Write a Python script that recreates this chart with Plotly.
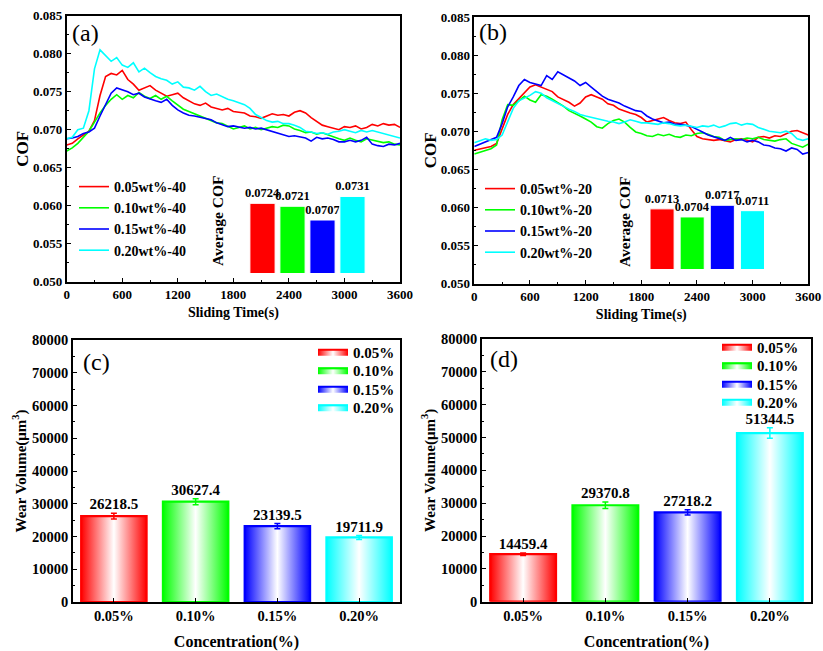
import plotly.graph_objects as go

# ---------------- DATA ----------------
time_s = list(range(0, 3601, 60))

cof_a_005 = [0.0680, 0.0682, 0.0688, 0.0693, 0.0698, 0.0712, 0.0745, 0.0770, 0.0774, 0.0772,
             0.0778, 0.0766, 0.0760, 0.0752, 0.0755, 0.0758, 0.0752, 0.0748, 0.0744, 0.0746,
             0.0748, 0.0742, 0.0738, 0.0734, 0.0732, 0.0735, 0.0730, 0.0728, 0.0726, 0.0728,
             0.0724, 0.0723, 0.0722, 0.0718, 0.0717, 0.0715, 0.0718, 0.0721, 0.0719, 0.0720,
             0.0718, 0.0723, 0.0725, 0.0722, 0.0716, 0.0711, 0.0706, 0.0704, 0.0702, 0.0700,
             0.0704, 0.0703, 0.0705, 0.0701, 0.0703, 0.0707, 0.0705, 0.0708, 0.0706, 0.0707,
             0.0703]
cof_a_010 = [0.0672, 0.0676, 0.0682, 0.0690, 0.0698, 0.0710, 0.0722, 0.0732, 0.0740, 0.0746,
             0.0740, 0.0745, 0.0742, 0.0749, 0.0744, 0.0741, 0.0745, 0.0740, 0.0744, 0.0738,
             0.0732, 0.0727, 0.0724, 0.0721, 0.0719, 0.0716, 0.0713, 0.0709, 0.0708, 0.0704,
             0.0701, 0.0703, 0.0705, 0.0701, 0.0703, 0.0700, 0.0702, 0.0704, 0.0703, 0.0706,
             0.0705, 0.0701, 0.0699, 0.0696, 0.0697, 0.0694, 0.0696, 0.0693, 0.0690, 0.0688,
             0.0686, 0.0689, 0.0686, 0.0684, 0.0688, 0.0686, 0.0685, 0.0683, 0.0684, 0.0681,
             0.0680]
cof_a_015 = [0.0688, 0.0689, 0.0691, 0.0695, 0.0697, 0.0702, 0.0718, 0.0733, 0.0748, 0.0755,
             0.0753, 0.0750, 0.0746, 0.0748, 0.0743, 0.0740, 0.0738, 0.0736, 0.0740, 0.0732,
             0.0726, 0.0722, 0.0719, 0.0718, 0.0716, 0.0715, 0.0713, 0.0709, 0.0706, 0.0704,
             0.0705, 0.0703, 0.0702, 0.0703, 0.0701, 0.0702, 0.0700, 0.0698, 0.0695, 0.0693,
             0.0691, 0.0692, 0.0690, 0.0689, 0.0685, 0.0690, 0.0688, 0.0689, 0.0687, 0.0684,
             0.0684, 0.0686, 0.0684, 0.0686, 0.0690, 0.0681, 0.0679, 0.0678, 0.0681, 0.0680,
             0.0682]
cof_a_020 = [0.0688, 0.0690, 0.0700, 0.0702, 0.0725, 0.0780, 0.0805, 0.0798, 0.0790, 0.0795,
             0.0785, 0.0782, 0.0788, 0.0776, 0.0781, 0.0775, 0.0770, 0.0767, 0.0765, 0.0760,
             0.0763, 0.0756, 0.0755, 0.0752, 0.0757, 0.0750, 0.0745, 0.0747, 0.0743, 0.0740,
             0.0738, 0.0735, 0.0733, 0.0728, 0.0720, 0.0716, 0.0712, 0.0710, 0.0711, 0.0708,
             0.0708, 0.0706, 0.0703, 0.0698, 0.0697, 0.0695, 0.0696, 0.0694, 0.0697, 0.0698,
             0.0700, 0.0698, 0.0696, 0.0699, 0.0697, 0.0699, 0.0697, 0.0695, 0.0693, 0.0690,
             0.0689]

cof_b_005 = [0.0675, 0.0677, 0.0678, 0.0680, 0.0684, 0.0702, 0.0722, 0.0735, 0.0743, 0.0750,
             0.0758, 0.0761, 0.0758, 0.0755, 0.0752, 0.0745, 0.0742, 0.0738, 0.0733, 0.0737,
             0.0745, 0.0748, 0.0745, 0.0742, 0.0736, 0.0734, 0.0729, 0.0726, 0.0724, 0.0722,
             0.0718, 0.0712, 0.0714, 0.0717, 0.0718, 0.0714, 0.0711, 0.0710, 0.0712, 0.0702,
             0.0693, 0.0690, 0.0689, 0.0688, 0.0689, 0.0687, 0.0686, 0.0689, 0.0690, 0.0688,
             0.0686, 0.0692, 0.0693, 0.0691, 0.0694, 0.0693, 0.0696, 0.0700, 0.0701, 0.0698,
             0.0695]
cof_b_010 = [0.0670, 0.0672, 0.0675, 0.0677, 0.0682, 0.0715, 0.0735, 0.0734, 0.0740, 0.0746,
             0.0741, 0.0738, 0.0748, 0.0746, 0.0742, 0.0738, 0.0733, 0.0727, 0.0724, 0.0720,
             0.0716, 0.0712, 0.0706, 0.0704, 0.0710, 0.0714, 0.0716, 0.0712, 0.0705, 0.0699,
             0.0697, 0.0694, 0.0693, 0.0696, 0.0694, 0.0696, 0.0693, 0.0692, 0.0695, 0.0694,
             0.0697, 0.0698, 0.0696, 0.0693, 0.0692, 0.0688, 0.0689, 0.0690, 0.0689, 0.0691,
             0.0690, 0.0692, 0.0689, 0.0688, 0.0687, 0.0689, 0.0690, 0.0684, 0.0681, 0.0679,
             0.0683]
cof_b_015 = [0.0680, 0.0683, 0.0686, 0.0690, 0.0692, 0.0710, 0.0732, 0.0745, 0.0760, 0.0768,
             0.0764, 0.0762, 0.0760, 0.0773, 0.0768, 0.0778, 0.0774, 0.0770, 0.0766, 0.0760,
             0.0764, 0.0758, 0.0752, 0.0746, 0.0742, 0.0740, 0.0737, 0.0733, 0.0730, 0.0727,
             0.0726, 0.0720, 0.0716, 0.0714, 0.0711, 0.0712, 0.0709, 0.0709, 0.0708, 0.0706,
             0.0703, 0.0699, 0.0695, 0.0693, 0.0690, 0.0688, 0.0692, 0.0688, 0.0689, 0.0686,
             0.0688, 0.0686, 0.0682, 0.0681, 0.0678, 0.0677, 0.0674, 0.0678, 0.0676, 0.0670,
             0.0672]
cof_b_020 = [0.0685, 0.0688, 0.0690, 0.0688, 0.0689, 0.0695, 0.0712, 0.0730, 0.0740, 0.0743,
             0.0747, 0.0752, 0.0750, 0.0744, 0.0740, 0.0737, 0.0733, 0.0729, 0.0726, 0.0722,
             0.0720, 0.0718, 0.0716, 0.0715, 0.0713, 0.0712, 0.0710, 0.0712, 0.0715, 0.0713,
             0.0711, 0.0711, 0.0710, 0.0709, 0.0711, 0.0710, 0.0708, 0.0707, 0.0708, 0.0706,
             0.0705, 0.0707, 0.0706, 0.0708, 0.0705, 0.0707, 0.0710, 0.0711, 0.0708, 0.0710,
             0.0709, 0.0705, 0.0702, 0.0700, 0.0699, 0.0698, 0.0700, 0.0697, 0.0690, 0.0688,
             0.0690]

names_a = ["0.05wt%-40", "0.10wt%-40", "0.15wt%-40", "0.20wt%-40"]
names_b = ["0.05wt%-20", "0.10wt%-20", "0.15wt%-20", "0.20wt%-20"]

avg_cof_a = [0.0724, 0.0721, 0.0707, 0.0731]
avg_cof_b = [0.0713, 0.0704, 0.0717, 0.0711]

conc_labels = ["0.05%", "0.10%", "0.15%", "0.20%"]
wear_c = [26218.5, 30627.4, 23139.5, 19711.9]
wear_c_err = [900, 900, 800, 600]
wear_d = [14459.4, 29370.8, 27218.2, 51344.5]
wear_d_err = [400, 1000, 800, 1600]

time_ticks = [0, 600, 1200, 1800, 2400, 3000, 3600]

colors = ["#FF0000", "#00FF00", "#0000FF", "#00FFFF"]

# ---------------- LAYOUT HELPERS ----------------
W, H = 823, 651
FONT = "Liberation Serif"


def px(x):
    return x / W


def py(y):
    return 1 - y / H


def bfont(size):
    return dict(family=FONT, size=size, color="black", weight="bold")


fig = go.Figure()

series_a = [cof_a_005, cof_a_010, cof_a_015, cof_a_020]
series_b = [cof_b_005, cof_b_010, cof_b_015, cof_b_020]

# panel (a) and (b) lines
for i in range(4):
    fig.add_trace(go.Scatter(x=time_s, y=series_a[i], mode="lines", name=names_a[i],
                             line=dict(color=colors[i], width=1.6),
                             xaxis="x", yaxis="y", legend="legend"))
for i in range(4):
    fig.add_trace(go.Scatter(x=time_s, y=series_b[i], mode="lines", name=names_b[i],
                             line=dict(color=colors[i], width=1.6),
                             xaxis="x2", yaxis="y2", legend="legend2"))

# inset bar charts
fig.add_trace(go.Bar(x=[0, 1, 2, 3], y=avg_cof_a, width=0.84,
                     marker=dict(color=colors, line=dict(color="white", width=1)),
                     text=["%.4f" % v for v in avg_cof_a], textposition="outside",
                     textfont=bfont(12.5), constraintext="none", cliponaxis=False,
                     showlegend=False, xaxis="x5", yaxis="y5"))
fig.add_trace(go.Bar(x=[0, 1, 2, 3], y=avg_cof_b, width=0.8,
                     marker=dict(color=colors, line=dict(color="white", width=1)),
                     text=["%.4f" % v for v in avg_cof_b], textposition="outside",
                     textfont=bfont(12.5), constraintext="none", cliponaxis=False,
                     showlegend=False, xaxis="x6", yaxis="y6"))


def add_wear_bars(values, errs, xa, ya, legends):
    half = 0.4
    for i, v in enumerate(values):
        fig.add_trace(go.Scatter(
            x=[i - half, i + half, i + half, i - half, i - half],
            y=[0, 0, v, v, 0], mode="lines", fill="toself",
            fillgradient=dict(type="horizontal",
                              colorscale=[[0, colors[i]], [0.5, "white"], [1, colors[i]]]),
            line=dict(color=colors[i], width=2.2), name=conc_labels[i],
            xaxis=xa, yaxis=ya, legend=legends[i], hoverinfo="skip"))
    for i, v in enumerate(values):
        fig.add_trace(go.Scatter(
            x=[i], y=[v], mode="markers", marker=dict(size=1, color=colors[i]),
            error_y=dict(type="data", array=[errs[i]], color=colors[i], thickness=1.5, width=3),
            showlegend=False, xaxis=xa, yaxis=ya))
    fig.add_trace(go.Scatter(
        x=list(range(len(values))), y=[v + e for v, e in zip(values, errs)], mode="text",
        text=["%.1f" % v for v in values], textposition="top center", textfont=bfont(15),
        showlegend=False, xaxis=xa, yaxis=ya, cliponaxis=False))


legends_c = ["legend3", "legend4", "legend5", "legend6"]
legends_d = ["legend7", "legend8", "legend9", "legend10"]
add_wear_bars(wear_c, wear_c_err, "x3", "y3", legends_c)
add_wear_bars(wear_d, wear_d_err, "x4", "y4", legends_d)

# ---------------- AXES ----------------
base_axis = dict(showline=True, linecolor="black", linewidth=1.6, mirror=True,
                 ticks="inside", ticklen=4, tickwidth=1.3, tickcolor="black",
                 showgrid=False, zeroline=False, fixedrange=True)


def time_axis(domain, anchor):
    return dict(base_axis, domain=domain, anchor=anchor, range=[0, 3600],
                tickvals=time_ticks, tickfont=bfont(13),
                minor=dict(ticks="inside", ticklen=2, tickcolor="black", dtick=300, tick0=0),
                title=dict(text="Sliding Time(s)", font=bfont(14), standoff=6))


def cof_axis(domain, anchor):
    return dict(base_axis, domain=domain, anchor=anchor, range=[0.050, 0.085],
                tick0=0.050, dtick=0.005, tickformat=".3f", tickfont=bfont(13),
                minor=dict(ticks="inside", ticklen=2, tickcolor="black", dtick=0.0025),
                title=dict(text="COF", font=bfont(17), standoff=0))


def conc_axis(domain, anchor):
    return dict(base_axis, domain=domain, anchor=anchor, range=[-0.5, 3.5],
                tickvals=[0, 1, 2, 3], ticktext=conc_labels, tickfont=bfont(14.5),
                title=dict(text="Concentration(%)", font=bfont(16), standoff=14))


def wear_axis(domain, anchor):
    return dict(base_axis, domain=domain, anchor=anchor, range=[0, 80000],
                dtick=10000, tickformat="d", tickfont=bfont(14.5),
                minor=dict(ticks="inside", ticklen=2, tickcolor="black", dtick=5000),
                title=dict(text="Wear Volume(μm<sup>3</sup>)", font=bfont(15), standoff=2))


hidden = dict(visible=False, showgrid=False, zeroline=False, fixedrange=True)

legend_common = dict(bgcolor="rgba(0,0,0,0)", borderwidth=0, xanchor="left", yanchor="top",
                     tracegroupgap=0, itemclick=False, itemdoubleclick=False)

legend_layout = {}
rows_c = [352, 370.5, 389, 407.5]
rows_d = [347, 365.5, 384, 402]
for k, name in enumerate(legends_c):
    legend_layout[name] = dict(legend_common, x=px(313), y=py(rows_c[k]), yanchor="middle",
                               font=bfont(15))
for k, name in enumerate(legends_d):
    legend_layout[name] = dict(legend_common, x=px(717), y=py(rows_d[k]), yanchor="middle",
                               font=bfont(15))


def label(text, x, y, size=24, bold=False, angle=0):
    f = bfont(size) if bold else dict(family=FONT, size=size, color="black")
    return dict(text=text, x=px(x), y=py(y), xref="paper", yref="paper", showarrow=False,
                xanchor="center", yanchor="middle", textangle=angle, font=f)


fig.update_layout(
    width=W, height=H, margin=dict(l=0, r=0, t=0, b=0),
    paper_bgcolor="white", plot_bgcolor="white", template="none",
    barmode="overlay", showlegend=True,
    font=dict(family=FONT, color="black"),
    xaxis=time_axis([px(66.7), px(400)], "y"),
    yaxis=cof_axis([py(281.7), py(15.7)], "x"),
    xaxis2=time_axis([px(474.3), px(808.3)], "y2"),
    yaxis2=cof_axis([py(283.5), py(17)], "x2"),
    xaxis3=conc_axis([px(73), px(400)], "y3"),
    yaxis3=wear_axis([py(602), py(340)], "x3"),
    xaxis4=conc_axis([px(482), px(811)], "y4"),
    yaxis4=wear_axis([py(601.7), py(339)], "x4"),
    xaxis5=dict(hidden, domain=[px(247.5), px(367.5)], anchor="y5", range=[-0.5, 3.5]),
    yaxis5=dict(hidden, domain=[py(273), py(168)], anchor="x5", range=[0.0653, 0.0760]),
    xaxis6=dict(hidden, domain=[px(647), px(767.5)], anchor="y6", range=[-0.5, 3.5]),
    yaxis6=dict(hidden, domain=[py(269), py(164)], anchor="x6", range=[0.0646, 0.0763]),
    legend=dict(legend_common, x=px(74), y=py(171), font=bfont(14)),
    legend2=dict(legend_common, x=px(480), y=py(173), font=bfont(14)),
    annotations=[
        label("(a)", 85, 33),
        label("(b)", 493, 32),
        label("(c)", 96, 362),
        label("(d)", 504, 359),
        label("Average COF", 217, 221, 15.5, True, -90),
        label("Average COF", 624, 222, 15.5, True, -90),
    ],
    **legend_layout,
)

fig.write_html("out.html", config={"displayModeBar": False},
               post_script="document.body.style.margin='0px';")
